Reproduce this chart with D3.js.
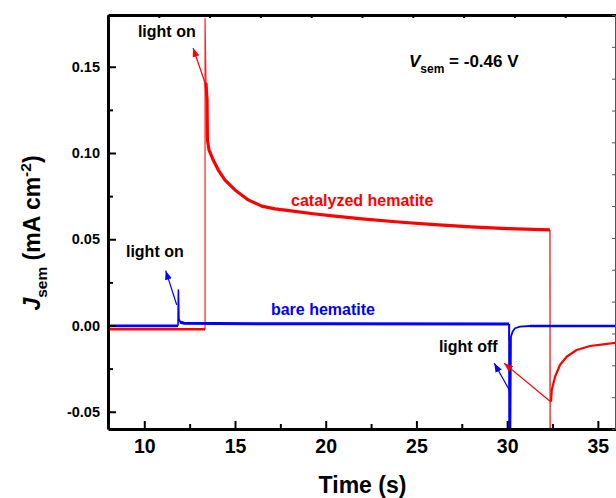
<!DOCTYPE html>
<html>
<head>
<meta charset="utf-8">
<script src="https://cdn.jsdelivr.net/npm/d3@7"></script>
<style>
  body { margin: 0; background: #fff; }
  svg text { font-family: Arial, "Liberation Sans", sans-serif; font-weight: bold; }
</style>
</head>
<body>
<div id="chart"></div>
<script>
// photocurrent transients, [time (s), J (mA cm-2)]
var redBase = [[8, -0.0022], [13.35, -0.0022]];
var redRise = [[13.35, -0.0022], [13.35, 0.178], [13.40, 0.1406]];
var redDecay = [[13.40, 0.1406], [13.46, 0.1307], [13.48, 0.1075], [13.57, 0.1017], [13.80, 0.0959],
  [14.08, 0.0901], [14.45, 0.0843], [15.00, 0.0786], [15.73, 0.0728], [16.47, 0.0692], [17.21, 0.0676],
  [18.09, 0.0664], [19.3, 0.0648], [20.5, 0.0634], [22.0, 0.0618], [24.0, 0.0600], [26.0, 0.0585],
  [28.0, 0.0572], [30.0, 0.0562], [32.36, 0.0554]];
var redDrop = [[32.36, 0.0554], [32.37, -0.08]];
var redRecovery = [[32.42, -0.0442], [32.46, -0.0374], [32.64, -0.0297], [32.91, -0.0229], [33.28, -0.0181],
  [33.83, -0.0142], [34.57, -0.0119], [35.30, -0.0109], [36.00, -0.0100]];

var blueBase = [[8, -0.0002], [11.86, -0.0002]];
var blueSpike = [[11.86, -0.0002], [11.88, 0.0206], [11.91, 0.004], [11.96, 0.002]];
var blueMid = [[11.96, 0.002], [12.2, 0.0013], [14, 0.0011], [20, 0.001], [30.11, 0.0009]];
var blueDrop = [[30.11, 0.0009], [30.12, -0.08]];
var blueRecovery = [[30.17, -0.08], [30.21, -0.0065], [30.30, -0.0036], [30.43, -0.0016], [30.71, -0.0007],
  [31.26, -0.0003]];
var blueTail = [[31.26, -0.0003], [36, -0.0003]];

var xTicks = [10, 15, 20, 25, 30, 35];
var xMinor = [12.5, 17.5, 22.5, 27.5, 32.5];
var yTicks = [-0.05, 0, 0.05, 0.10, 0.15];
var yMinor = [-0.025, 0.025, 0.075, 0.125];

// annotations [x, y] in data units
var labels = [
  {text: "light on", at: [9.65, 0.167], color: "#000"},
  {text: "light on", at: [8.99, 0.0397], color: "#000"},
  {text: "catalyzed hematite", at: [18.09, 0.0693], color: "#ff0000"},
  {text: "bare hematite", at: [16.98, 0.0061], color: "#0000ff"},
  {text: "light off", at: [26.24, -0.0154], color: "#000"}
];
var arrows = [
  {from: [13.35, 0.1406], to: [12.69, 0.1609], color: "red"},
  {from: [11.79, 0.0119], to: [11.18, 0.0318], color: "blue"},
  {from: [30.12, -0.0374], to: [29.29, -0.0219], color: "blue"},
  {from: [32.40, -0.0442], to: [29.83, -0.0219], color: "red"}
];

var width = 616, height = 498;
var plotLeft = 108, plotRight = 616, plotTop = 15, plotBottom = 429;

var svg = d3.select("#chart").append("svg").attr("width", width).attr("height", height);

var x = d3.scaleLinear().domain([8, 36]).range([plotLeft, plotRight]);
var y = d3.scaleLinear().domain([-0.06, 0.18]).range([plotBottom, plotTop]);

svg.append("clipPath").attr("id", "plot")
  .append("rect").attr("x", plotLeft).attr("y", plotTop)
  .attr("width", plotRight - plotLeft).attr("height", plotBottom - plotTop);

var line = d3.line().x(function(d) { return x(d[0]); }).y(function(d) { return y(d[1]); });

var curves = svg.append("g").attr("clip-path", "url(#plot)");
function draw(data, color, w) {
  curves.append("path").attr("d", line(data)).attr("fill", "none")
    .attr("stroke", color).attr("stroke-width", w).attr("stroke-linejoin", "round");
}
draw(redBase, "#ff0000", 2.6);
draw(redRise, "#ff2020", 1.2);
draw(redDecay, "#ff0000", 3.2);
draw(redDrop, "#ff0000", 1.2);
draw(redRecovery, "#ff0000", 2.2);

draw(blueBase, "#0000ff", 2.8);
draw(blueSpike, "#0000ff", 1.6);
draw(blueMid, "#0000ff", 3);
draw(blueDrop, "#0000ff", 2);
draw(blueRecovery, "#0000ff", 1.8);
draw(blueTail, "#0000ff", 2.4);

// arrows
var defs = svg.append("defs");
["red", "blue"].forEach(function(c) {
  defs.append("marker").attr("id", "head-" + c)
    .attr("markerUnits", "userSpaceOnUse").attr("markerWidth", 10).attr("markerHeight", 8)
    .attr("refX", 9).attr("refY", 3.5).attr("orient", "auto")
    .append("path").attr("d", "M0,0 L9,3.5 L0,7 Z").attr("fill", c === "red" ? "#ff0000" : "#0000ff");
});
arrows.forEach(function(a) {
  svg.append("line")
    .attr("x1", x(a.from[0])).attr("y1", y(a.from[1]))
    .attr("x2", x(a.to[0])).attr("y2", y(a.to[1]))
    .attr("stroke", a.color === "red" ? "#ff0000" : "#0000ff").attr("stroke-width", 1.2)
    .attr("marker-end", "url(#head-" + a.color + ")");
});

// axes
function styleAxis(g, w, color) {
  g.select(".domain").attr("stroke", color).attr("stroke-width", w);
  g.selectAll(".tick line").attr("stroke", color).attr("stroke-width", w === 3 ? 2 : 1);
}

var gx = svg.append("g").attr("transform", "translate(0," + plotBottom + ")")
  .call(d3.axisBottom(x).tickValues(xTicks).tickSize(-8).tickSizeOuter(0).tickPadding(10));
styleAxis(gx, 3, "#000");
gx.selectAll("text").attr("font-size", 19.5).attr("fill", "#000");
svg.append("g").attr("transform", "translate(0," + plotBottom + ")")
  .call(d3.axisBottom(x).tickValues(xMinor).tickSize(-5).tickFormat(""))
  .call(function(g) { g.select(".domain").remove(); g.selectAll("line").attr("stroke-width", 2); });

var gy = svg.append("g").attr("transform", "translate(" + plotLeft + ",0)")
  .call(d3.axisLeft(y).tickValues(yTicks).tickSize(-8).tickSizeOuter(0).tickPadding(8)
    .tickFormat(function(d) { return d.toFixed(2); }));
styleAxis(gy, 3, "#000");
gy.selectAll("text").attr("font-size", 14.5).attr("fill", "#000");
svg.append("g").attr("transform", "translate(" + plotLeft + ",0)")
  .call(d3.axisLeft(y).tickValues(yMinor).tickSize(-5).tickFormat(""))
  .call(function(g) { g.select(".domain").remove(); g.selectAll("line").attr("stroke-width", 2); });

var gt = svg.append("g").attr("transform", "translate(0," + plotTop + ")")
  .call(d3.axisTop(x).tickValues(d3.range(0, 11).map(function(i) { return 8 + i * 2.8; }))
    .tickSize(-3).tickSizeOuter(0).tickFormat(""));
styleAxis(gt, 3, "#000");

var gr = svg.append("g").attr("transform", "translate(" + (plotRight - 1) + ",0)")
  .call(d3.axisRight(y).tickValues(d3.range(0, 14).map(function(i) { return -0.06 + i * 0.24 / 13; }))
    .tickSize(-3).tickSizeOuter(0).tickFormat(""));
styleAxis(gr, 1, "#555");

// text labels
labels.forEach(function(l) {
  svg.append("text").attr("x", x(l.at[0])).attr("y", y(l.at[1]))
    .attr("font-size", 16).attr("fill", l.color).text(l.text);
});

var vt = svg.append("text").attr("x", x(24.59)).attr("y", y(0.1499)).attr("font-size", 17).attr("fill", "#000");
vt.append("tspan").attr("font-style", "italic").text("V");
vt.append("tspan").attr("font-size", 12).attr("dy", 6).text("sem");
vt.append("tspan").attr("dy", -6).text(" = -0.46 V");

svg.append("text").attr("x", (plotLeft + plotRight) / 2 + 0.5).attr("y", 493)
  .attr("text-anchor", "middle").attr("font-size", 23).attr("fill", "#000").text("Time (s)");

var yl = svg.append("text").attr("transform", "translate(40,233) rotate(-90)")
  .attr("text-anchor", "middle").attr("font-size", 23).attr("fill", "#000");
yl.append("tspan").attr("font-style", "italic").text("J");
yl.append("tspan").attr("font-size", 15.5).attr("dy", 7).text("sem");
yl.append("tspan").attr("dy", -7).text(" (mA cm");
yl.append("tspan").attr("font-size", 15.5).attr("dy", -9).text("-2");
yl.append("tspan").attr("dy", 9).text(")");
</script>
</body>
</html>
